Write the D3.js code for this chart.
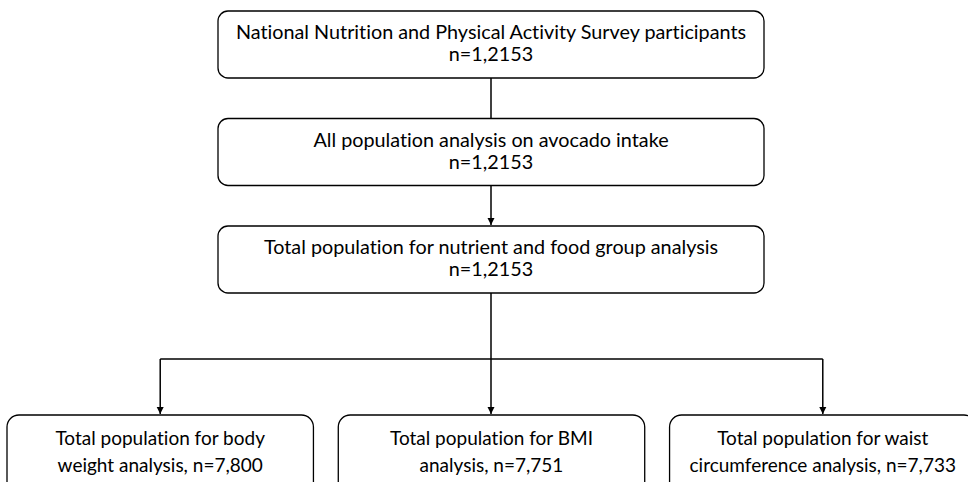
<!DOCTYPE html>
<html>
<head>
<meta charset="utf-8">
<script src="https://cdn.jsdelivr.net/npm/d3@7"></script>
<style>
  body { margin: 0; background: #fff; }
  svg text { font-family: Lato, "Open Sans", sans-serif; fill: #000; font-variant-ligatures: none; }
</style>
</head>
<body>
<script>
// flow steps (top column) and final analysis groups (bottom row)
const stepLabels = ['National Nutrition and Physical Activity Survey participants',
                    'All population analysis on avocado intake',
                    'Total population for nutrient and food group analysis'];
const stepCounts = ['1,2153', '1,2153', '1,2153'];
const groupLines = [['Total population for body', 'weight analysis, n='],
                    ['Total population for BMI', 'analysis, n='],
                    ['Total population for waist', 'circumference analysis, n=']];
const groupCounts = ['7,800', '7,751', '7,733'];

const width = 968;
const height = 482;

const svg = d3.select('body')
              .append('svg')
              .attr('width', width)
              .attr('height', height);

svg.append('defs').append('marker')
    .attr('id', 'arrow')
    .attr('viewBox', '0 0 10 10')
    .attr('refX', 10)
    .attr('refY', 5)
    .attr('markerWidth', 5)
    .attr('markerHeight', 5)
    .attr('markerUnits', 'strokeWidth')
    .attr('orient', 'auto')
    .append('path')
    .attr('d', 'M0,0 L10,5 L0,10 z')
    .attr('fill', '#000');

// top column
const stepY = d3.scalePoint()
                .domain(d3.range(stepLabels.length))
                .range([11, 226]);
const boxW = 546, boxH = 67, cx = 491;

const steps = svg.selectAll('g.step')
                 .data(stepLabels)
                 .enter()
                 .append('g')
                 .attr('class', 'step')
                 .attr('transform', (d, i) => 'translate(' + (cx - boxW / 2) + ',' + stepY(i) + ')');

steps.append('rect')
    .attr('width', boxW)
    .attr('height', boxH)
    .attr('rx', 10)
    .attr('fill', '#fff')
    .attr('stroke', '#000')
    .attr('stroke-width', 1.3);

steps.append('text')
    .attr('x', boxW / 2)
    .attr('y', 28)
    .attr('text-anchor', 'middle')
    .style('font-size', '19.8px')
    .text(d => d);

steps.append('text')
    .attr('x', boxW / 2)
    .attr('y', 50)
    .attr('text-anchor', 'middle')
    .style('font-size', '19.8px')
    .text((d, i) => 'n=' + stepCounts[i]);

// connectors between steps
const links = svg.append('g').attr('stroke', '#000').attr('stroke-width', 1.5);
links.append('line')
    .attr('x1', cx).attr('x2', cx)
    .attr('y1', stepY(0) + boxH).attr('y2', stepY(1));
links.append('line')
    .attr('x1', cx).attr('x2', cx)
    .attr('y1', stepY(1) + boxH).attr('y2', stepY(2) - 1)
    .attr('marker-end', 'url(#arrow)');

// bottom row
const groupX = d3.scaleBand()
                 .domain(d3.range(groupCounts.length))
                 .range([7, 976])
                 .paddingInner(0.075);
const branchY = 359, groupTop = 415;

links.append('line')
    .attr('x1', cx).attr('x2', cx)
    .attr('y1', stepY(2) + boxH).attr('y2', branchY);
links.append('line')
    .attr('x1', groupX(0) + groupX.bandwidth() / 2)
    .attr('x2', groupX(2) + groupX.bandwidth() / 2)
    .attr('y1', branchY).attr('y2', branchY);
links.selectAll('line.drop')
    .data(groupCounts)
    .enter()
    .append('line')
    .attr('class', 'drop')
    .attr('x1', (d, i) => i === 1 ? cx : groupX(i) + groupX.bandwidth() / 2)
    .attr('x2', (d, i) => i === 1 ? cx : groupX(i) + groupX.bandwidth() / 2)
    .attr('y1', branchY)
    .attr('y2', groupTop - 1)
    .attr('marker-end', 'url(#arrow)');

const groups = svg.selectAll('g.group')
                  .data(groupCounts)
                  .enter()
                  .append('g')
                  .attr('class', 'group')
                  .attr('transform', (d, i) => 'translate(' + groupX(i) + ',' + groupTop + ')');

groups.append('rect')
    .attr('width', groupX.bandwidth())
    .attr('height', 80)
    .attr('rx', 12)
    .attr('fill', '#fff')
    .attr('stroke', '#000')
    .attr('stroke-width', 1.3);

groups.append('text')
    .attr('x', groupX.bandwidth() / 2)
    .attr('y', 30)
    .attr('text-anchor', 'middle')
    .style('font-size', '19px')
    .text((d, i) => groupLines[i][0]);

groups.append('text')
    .attr('x', groupX.bandwidth() / 2)
    .attr('y', 57)
    .attr('text-anchor', 'middle')
    .style('font-size', '19px')
    .text((d, i) => groupLines[i][1] + d);
</script>
</body>
</html>
